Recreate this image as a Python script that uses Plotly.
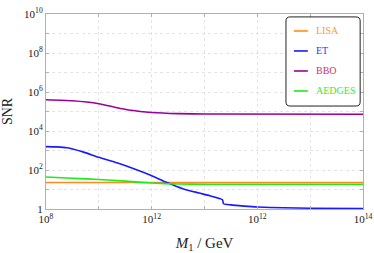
import plotly.graph_objects as go

# ---- data ----
mass_lisa = [1e8, 1e14]
snr_lisa = [23, 23]

mass_et = [1e8, 1.6e8, 2.5e8, 5e8, 1e9, 2.19e9, 4.47e9, 9.33e9, 1.9e10, 4e10, 7.9e10, 1.26e11,
           2.19e11, 2.29e11, 3.16e11, 5.6e11, 1e12, 3.16e12, 1e13, 1e14]
snr_et = [1585, 1530, 1380, 851, 447, 234, 120, 55, 23.4, 10.7, 6.6, 4.8,
          3.0, 1.86, 1.62, 1.41, 1.26, 1.15, 1.10, 1.05]

mass_bbo = [1e8, 3.16e8, 1e9, 2e9, 4e9, 1e10, 3.16e10, 1e11, 1e14]
snr_bbo = [3.98e5, 3.55e5, 2.51e5, 1.66e5, 1.15e5, 8.9e4, 7.76e4, 7.4e4, 7.24e4]

mass_aedges = [1e8, 3.16e8, 1e9, 3.16e9, 1e10, 3.16e10, 1e11, 1e14]
snr_aedges = [43.7, 38.0, 32.4, 26.9, 21.4, 19.1, 18.6, 18.6]

names = ["LISA", "ET", "BBO", "AEDGES"]
line_colors = ["#ff8c1a", "#1a1aff", "#990099", "#1aee1a"]
text_colors = ["#ff9933", "#3333ff", "#cc3366", "#33ee33"]
series = [(mass_lisa, snr_lisa), (mass_et, snr_et), (mass_bbo, snr_bbo),
          (mass_aedges, snr_aedges)]

x_tickvals = [1e8, 1e9, 1e10, 1e11, 1e12, 1e13, 1e14]
x_ticktext = ["10<sup>8</sup>", " ", "10<sup>12</sup>", " ", "10<sup>12</sup>", " ", "10<sup>14</sup>"]
y_tickvals = [1, 1e1, 1e2, 1e3, 1e4, 1e5, 1e6, 1e7, 1e8, 1e9, 1e10]
y_ticktext = ["1", " ", "10<sup>2</sup>", " ", "10<sup>4</sup>", " ", "10<sup>6</sup>", " ",
              "10<sup>8</sup>", " ", "10<sup>10</sup>"]

FONT = "Liberation Serif, DejaVu Serif, serif"

fig = go.Figure()
for (m, s), nm, c in zip(series, names, line_colors):
    fig.add_trace(go.Scatter(x=m, y=s, mode="lines", name=nm,
                             line=dict(color=c, width=1.6, shape="spline", smoothing=0.5),
                             showlegend=False))

# manual legend (rounded box)
x0, x1, y0, y1 = 0.757, 0.991, 0.528, 0.985
rx, ry = 0.013, 0.021
path = (f"M {x0+rx},{y1} L {x1-rx},{y1} Q {x1},{y1} {x1},{y1-ry} "
        f"L {x1},{y0+ry} Q {x1},{y0} {x1-rx},{y0} L {x0+rx},{y0} "
        f"Q {x0},{y0} {x0},{y0+ry} L {x0},{y1-ry} Q {x0},{y1} {x0+rx},{y1} Z")
fig.add_shape(type="path", path=path, xref="paper", yref="paper",
              line=dict(color="#222222", width=1), fillcolor="white", layer="above")
for i, (nm, lc, tc) in enumerate(zip(names, line_colors, text_colors)):
    yy = 0.913 - i * 0.1026
    fig.add_shape(type="line", xref="paper", yref="paper",
                  x0=0.782, x1=0.826, y0=yy, y1=yy,
                  line=dict(color=lc, width=1.6), layer="above")
    fig.add_annotation(xref="paper", yref="paper", x=0.845, y=yy, text=nm,
                       showarrow=False, xanchor="left", yanchor="middle",
                       font=dict(family=FONT, size=10, color=tc))

axis_common = dict(showline=True, linecolor="#b0b0b0", linewidth=1, mirror="ticks",
                   ticks="inside", ticklen=3, tickcolor="#b0b0b0", automargin=False,
                   showgrid=True, gridcolor="#e4e4e4", griddash="3px,3px", gridwidth=1,
                   zeroline=False, tickfont=dict(family=FONT, size=11, color="#222222"))

fig.update_xaxes(type="log", range=[8, 14], tickmode="array", tickvals=x_tickvals,
                 ticktext=x_ticktext, title=dict(text="<i>M</i><sub>1</sub> / GeV",
                 font=dict(family=FONT, size=15, color="#222222"), standoff=13),
                 **axis_common)
fig.update_yaxes(type="log", range=[0, 10], tickmode="array", tickvals=y_tickvals,
                 ticktext=y_ticktext, title=dict(text="SNR",
                 font=dict(family=FONT, size=14, color="#222222"), standoff=8),
                 **axis_common)

fig.update_layout(width=374, height=253, margin=dict(l=46, r=11, t=14, b=44),
                  plot_bgcolor="white", paper_bgcolor="white",
                  font=dict(family=FONT))

# remove the default 8px page margin so the figure sits at the window origin
fig.write_html("out.html", config={"displayModeBar": False},
               post_script="document.body.style.margin='0px';document.body.style.overflow='hidden';")
